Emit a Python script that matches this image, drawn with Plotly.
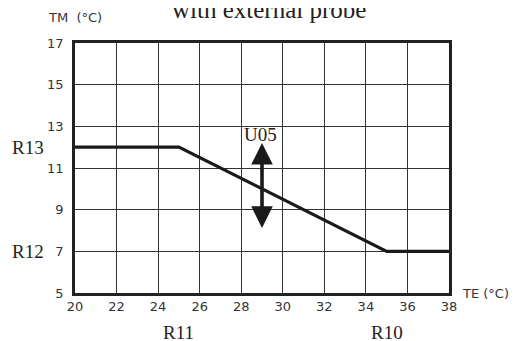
import plotly.graph_objects as go

te = [20, 25, 35, 38]
tm = [12, 12, 7, 7]
x_ticks = [20, 22, 24, 26, 28, 30, 32, 34, 36, 38]
y_ticks = [5, 7, 9, 11, 13, 15, 17]
arrow_x = 29
arrow_lo = 8.05
arrow_hi = 12.2

sans = "DejaVu Sans"
serif = "Liberation Serif"
ink = "#222222"
tick_ink = "#333333"

fig = go.Figure()
fig.add_trace(go.Scatter(x=te, y=tm, mode="lines",
                         line=dict(color="#1a1a1a", width=3.2), hoverinfo="skip"))

fig.update_layout(
    width=519, height=341,
    margin=dict(l=67, r=78, t=35, b=56),
    paper_bgcolor="white", plot_bgcolor="white",
    showlegend=False,
    xaxis=dict(range=[20, 38], tickvals=x_ticks, showgrid=True, gridcolor="#333333",
               gridwidth=1, zeroline=False, showline=True, linecolor="#222", linewidth=2.5,
               mirror=True, ticks="", tickfont=dict(family=sans, size=13, color=tick_ink)),
    yaxis=dict(range=[5, 17], tickvals=y_ticks, showgrid=True, gridcolor="#333333",
               gridwidth=1, zeroline=False, showline=True, linecolor="#222", linewidth=2.5,
               mirror=True, ticks="", ticklabelstandoff=6,
               tickfont=dict(family=sans, size=13, color=tick_ink)),
)

ann = [
    dict(text="with external probe", x=0.52, y=1.165, xref="paper", yref="paper",
         xanchor="center", yshift=-8, font=dict(family=serif, size=25, color=ink)),
    dict(text="TM  (°C)", x=0.0, y=1.1, xref="paper", yref="paper", xanchor="center",
         font=dict(family=sans, size=13, color=tick_ink)),
    dict(text="TE (°C)", x=1.0, y=0.0, xref="paper", yref="paper", xanchor="left",
         xshift=11, font=dict(family=sans, size=13, color=tick_ink)),
    dict(text="R13", x=0.0, y=12, xref="paper", yref="y", xanchor="center",
         xshift=-47, font=dict(family=serif, size=19, color=ink)),
    dict(text="R12", x=0.0, y=7, xref="paper", yref="y", xanchor="center",
         xshift=-47, font=dict(family=serif, size=19, color=ink)),
    dict(text="R11", x=25, y=0.0, xref="x", yref="paper", xanchor="center",
         yshift=-39, font=dict(family=serif, size=19, color=ink)),
    dict(text="R10", x=35, y=0.0, xref="x", yref="paper", xanchor="center",
         yshift=-39, font=dict(family=serif, size=19, color=ink)),
    dict(text="U05", x=arrow_x, y=arrow_hi, xref="x", yref="y", xanchor="center",
         yshift=9, xshift=-2, font=dict(family=serif, size=19, color=ink)),
]
for a in ann:
    a.setdefault("showarrow", False)
    a.setdefault("yanchor", "middle")
    fig.add_annotation(**a)

fig.add_annotation(x=arrow_x, y=arrow_hi, ax=arrow_x, ay=arrow_lo, xref="x", yref="y",
                   axref="x", ayref="y", text="", showarrow=True, arrowhead=2,
                   startarrowhead=2, arrowside="end+start", arrowwidth=3.6,
                   arrowsize=1.2, startarrowsize=1.2, arrowcolor="#1a1a1a")

fig.write_html("out.html")
